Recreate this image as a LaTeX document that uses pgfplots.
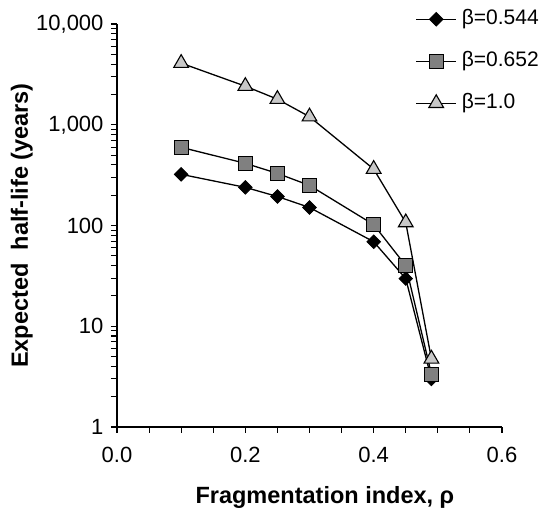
\documentclass[border=0pt]{standalone}
\usepackage{fontspec}
\setmainfont{Liberation Sans}
\usepackage{pgfplots}
\pgfplotsset{compat=1.18}
\definecolor{sqgray}{RGB}{128,128,128}
\definecolor{trgray}{RGB}{200,200,200}
\begin{document}
\begin{tikzpicture}
\begin{axis}[
  scale only axis, width=385pt, height=403pt,
  xmin=0, xmax=0.6, ymin=1, ymax=10000, ymode=log,
  axis x line*=bottom, axis y line*=left,
  axis line style={line width=1.2pt, -},
  xtick={0,0.2,0.4,0.6}, xticklabels={0.0,0.2,0.4,0.6},
  minor xtick={0.05,0.1,0.15,0.25,0.3,0.35,0.45,0.5,0.55},
  ytick={1,10,100,1000,10000}, yticklabels={1,10,100,{1,000},{10,000}},
  minor ytick={2,3,...,9,20,30,...,90,200,300,...,900,2000,3000,...,9000},
  tick align=outside, major tick length=6pt, minor tick length=6pt,
  every tick/.style={line width=1.1pt, black},
  tick label style={font=\fontsize{22}{26}\selectfont},
  xticklabel style={yshift=-11pt},
  yticklabel style={xshift=-4pt},
  xlabel={Fragmentation index, ρ},
  ylabel={Expected~ half-life (years)},
  label style={font=\bfseries\fontsize{23.5}{27}\selectfont},
  xlabel style={at={(axis description cs:0.54,-0.176)}, anchor=center},
  ylabel style={at={(axis description cs:-0.247,0.5)}, anchor=center},
  legend style={draw=none, fill=none, at={(axis description cs:0.775,1.037)}, anchor=north west,
    font=\fontsize{21}{25}\selectfont, inner sep=0pt, row sep=22pt,
    nodes={inner sep=0pt, text height=15pt, text depth=5pt}},
  legend cell align=left,
  legend image code/.code={\draw[#1, mark repeat=2, mark phase=2] plot coordinates {(0pt,0pt) (20pt,0pt) (40pt,0pt)};},
  clip=false,
]
\addplot[black, line width=1.3pt, mark=square*, mark size=4.8pt, mark options={rotate=45, fill=black, line width=0.8pt}]
  coordinates {(0.1,322) (0.2,239) (0.25,194) (0.3,151) (0.4,69) (0.45,29.7) (0.49,3.0)};
\addlegendentry{\hspace{5pt}β=0.544}
\addplot[black, line width=1.3pt, mark=square*, mark size=7pt, mark options={fill=sqgray, line width=1.1pt}]
  coordinates {(0.1,597) (0.2,414) (0.25,329) (0.3,250) (0.4,102) (0.45,40) (0.49,3.35)};
\addlegendentry{\hspace{5pt}β=0.652}
\addplot[black, line width=1.3pt, mark=triangle*, mark size=8.5pt, mark options={fill=trgray, line width=1.1pt}]
  coordinates {(0.1,4090) (0.2,2415) (0.25,1794) (0.3,1202) (0.4,363) (0.45,107) (0.49,4.75)};
\addlegendentry{\hspace{5pt}β=1.0}
\end{axis}
\path (-117pt,-92pt) rectangle (442pt,427pt);
\end{tikzpicture}
\end{document}
